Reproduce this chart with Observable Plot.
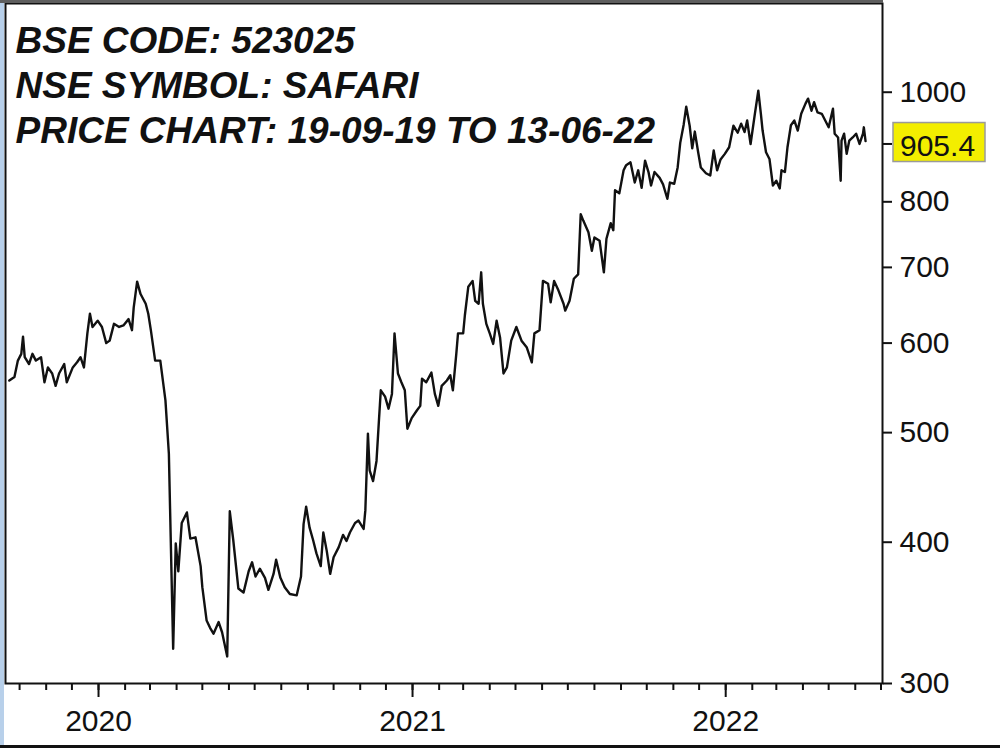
<!DOCTYPE html>
<html><head><meta charset="utf-8">
<script src="https://cdn.jsdelivr.net/npm/d3@7"></script>
<script src="https://cdn.jsdelivr.net/npm/@observablehq/plot@0.6"></script>
<style>
html,body{margin:0;padding:0;background:#fff;width:1000px;height:752px;overflow:hidden;position:relative;font-family:"Liberation Sans",Arial,sans-serif}
#chart{position:absolute;left:0;top:0}
.blue{position:absolute;left:0;top:0;width:4px;height:745px;background:#b8d0ea}
.topbar{position:absolute;left:0;top:0;width:883px;height:3px;background:#5e5e5e}
.bottomline{position:absolute;left:0;top:745px;width:1000px;height:3px;background:#111}
</style></head><body>
<div id="chart"></div>
<div class="blue"></div><div class="topbar"></div><div class="bottomline"></div>
<script>
const dates = ["2019-09-19","2019-09-25","2019-09-29","2019-10-03","2019-10-05","2019-10-07","2019-10-12","2019-10-16","2019-10-20","2019-10-26","2019-10-30","2019-11-03","2019-11-08","2019-11-12","2019-11-16","2019-11-22","2019-11-25","2019-12-02","2019-12-07","2019-12-11","2019-12-15","2019-12-19","2019-12-22","2019-12-25","2019-12-31",
"2020-01-05","2020-01-10","2020-01-14","2020-01-19","2020-01-25","2020-01-30","2020-02-05","2020-02-09","2020-02-11","2020-02-15","2020-02-19","2020-02-25","2020-02-28","2020-03-02","2020-03-07","2020-03-13","2020-03-19","2020-03-23","2020-03-25","2020-03-28","2020-03-31","2020-04-03","2020-04-07","2020-04-13","2020-04-17","2020-04-23","2020-04-29","2020-05-01","2020-05-06","2020-05-10","2020-05-14","2020-05-20","2020-05-24","2020-05-30","2020-06-02","2020-06-06","2020-06-12","2020-06-18","2020-06-24","2020-06-28","2020-07-02","2020-07-07","2020-07-13","2020-07-17","2020-07-23","2020-07-26","2020-07-31","2020-08-05","2020-08-11","2020-08-19","2020-08-24","2020-08-27","2020-08-30","2020-09-03","2020-09-07","2020-09-11","2020-09-16","2020-09-19","2020-09-23","2020-09-27","2020-10-01","2020-10-07","2020-10-12","2020-10-16","2020-10-20","2020-10-26","2020-10-30","2020-11-05","2020-11-07","2020-11-10","2020-11-12","2020-11-16","2020-11-20","2020-11-23","2020-11-25","2020-11-30","2020-12-04","2020-12-08","2020-12-11","2020-12-15","2020-12-19","2020-12-23","2020-12-26","2020-12-31",
"2021-01-06","2021-01-10","2021-01-12","2021-01-17","2021-01-23","2021-01-27","2021-01-31","2021-02-04","2021-02-10","2021-02-14","2021-02-17","2021-02-21","2021-02-23","2021-03-01","2021-03-03","2021-03-07","2021-03-12","2021-03-15","2021-03-19","2021-03-22","2021-03-24","2021-03-28","2021-04-01","2021-04-05","2021-04-09","2021-04-13","2021-04-17","2021-04-21","2021-04-26","2021-05-02","2021-05-08","2021-05-14","2021-05-20","2021-05-23","2021-05-29","2021-06-02","2021-06-08","2021-06-11","2021-06-15","2021-06-20","2021-06-26","2021-06-28","2021-07-03","2021-07-08","2021-07-13","2021-07-16","2021-07-19","2021-07-25","2021-07-29","2021-08-01","2021-08-07","2021-08-12","2021-08-15","2021-08-20","2021-08-23","2021-08-25","2021-08-30","2021-09-04","2021-09-07","2021-09-12","2021-09-17","2021-09-21","2021-09-25","2021-09-29","2021-10-03","2021-10-06","2021-10-10","2021-10-16","2021-10-20","2021-10-25","2021-10-28","2021-11-02","2021-11-06","2021-11-09","2021-11-13","2021-11-16","2021-11-20","2021-11-23","2021-11-26","2021-11-30","2021-12-03","2021-12-09","2021-12-14","2021-12-18","2021-12-22","2021-12-26","2021-12-31",
"2022-01-05","2022-01-10","2022-01-15","2022-01-19","2022-01-23","2022-01-26","2022-01-30","2022-02-04","2022-02-08","2022-02-11","2022-02-13","2022-02-17","2022-02-21","2022-02-25","2022-03-01","2022-03-05","2022-03-07","2022-03-11","2022-03-14","2022-03-18","2022-03-22","2022-03-26","2022-03-30","2022-04-04","2022-04-07","2022-04-11","2022-04-14","2022-04-18","2022-04-23","2022-04-27","2022-05-01","2022-05-06","2022-05-08","2022-05-12","2022-05-15","2022-05-16","2022-05-19","2022-05-22","2022-05-25","2022-05-29","2022-06-02","2022-06-06","2022-06-10","2022-06-11","2022-06-13"];
const prices = [556,560,579,587,608,583,575,587,579,583,554,571,564,550,564,575,554,571,577,583,571,612,637,620,628,
620,600,603,624,620,622,630,616,645,680,663,650,637,616,579,579,534,479,408,322,399,377,416,425,403,404,381,365,341,336,332,340,333,317,426,402,364,361,377,384,373,379,372,363,375,386,372,365,360,359,373,415,430,412,402,391,381,408,393,375,388,396,406,401,408,416,418,411,427,499,463,453,472,515,545,538,525,541,612,564,554,545,504,515,
523,528,558,554,565,541,528,550,556,562,545,587,612,612,635,673,681,654,650,693,650,624,612,599,628,607,564,571,603,620,603,595,577,612,616,681,677,652,681,668,650,641,654,684,690,780,770,752,724,744,739,693,742,766,755,819,814,853,862,867,832,853,823,870,850,827,850,840,829,805,832,830,858,902,936,971,934,892,923,884,858,848,844,888,853,872,882,
894,934,921,938,922,944,900,957,1003,957,925,885,873,827,835,822,853,850,894,935,944,925,957,977,987,963,980,960,957,944,931,967,919,912,835,906,919,882,906,912,919,900,919,931,905.4];
const yTicks = [300,400,500,600,700,800,900,1000];
const yearTicks = ["2020-01-01","2021-01-01","2022-01-01"];
const titleLines = ["BSE CODE: 523025","NSE SYMBOL: SAFARI","PRICE CHART: 19-09-19 TO 13-06-22"];
const lastLabel = "905.4";

const data = dates.map((d, i) => ({date: new Date(d), price: prices[i]}));
const lastValue = prices[prices.length - 1];

function lastValueMark(index, scales, values, dimensions) {
  const y = scales.y(lastValue);
  const x = dimensions.width - dimensions.marginRight;
  const g = d3.create("svg:g");
  g.append("rect").attr("x", x + 11).attr("y", y - 18).attr("width", 92).attr("height", 39)
    .attr("fill", "#f3ee00").attr("stroke", "#9a9a9a").attr("stroke-width", 1.5);
  g.append("text").attr("x", x + 18).attr("y", y + 15).attr("font-size", 30)
    .attr("text-anchor", "start").attr("fill", "#111").text(lastLabel);
  return g.node();
}

const chart = Plot.plot({
  width: 1000, height: 745,
  marginLeft: 5, marginRight: 118, marginTop: 3, marginBottom: 62,
  style: {fontFamily: "'Liberation Sans', Arial, sans-serif", background: "transparent", color: "#111", overflow: "visible"},
  x: {type: "utc", domain: [new Date("2019-09-14T14:00Z"), new Date("2022-07-02T18:00Z")]},
  y: {type: "log", domain: [300, 1198]},
  marks: [
    Plot.axisX({ticks: d3.utcMonth, tickSize: 7, tickFormat: () => "", strokeWidth: 2, label: null}),
    Plot.axisX({ticks: yearTicks.map(d => new Date(d)), tickSize: 14, tickPadding: 12, strokeWidth: 2,
      tickFormat: d3.utcFormat("%Y"), fontSize: 30, label: null}),
    Plot.axisY({anchor: "right", ticks: yTicks, tickSize: 9, tickPadding: 8, strokeWidth: 2,
      tickFormat: d => d === 900 ? "" : String(d), fontSize: 30, label: null}),
    Plot.frame({stroke: "#111", strokeWidth: 2}),
    Plot.line(data, {x: "date", y: "price", stroke: "#111", strokeWidth: 2.4, strokeLinejoin: "round"}),
    Plot.text([titleLines.join("\n")], {text: d => d, frameAnchor: "top-left", dx: 10, dy: 18,
      lineAnchor: "top", textAnchor: "start", fontSize: 37, fontWeight: "bold", fontStyle: "italic",
      lineHeight: 1.216, fill: "#111"}),
    lastValueMark
  ]
});
document.getElementById("chart").append(chart);
</script>
</body></html>
